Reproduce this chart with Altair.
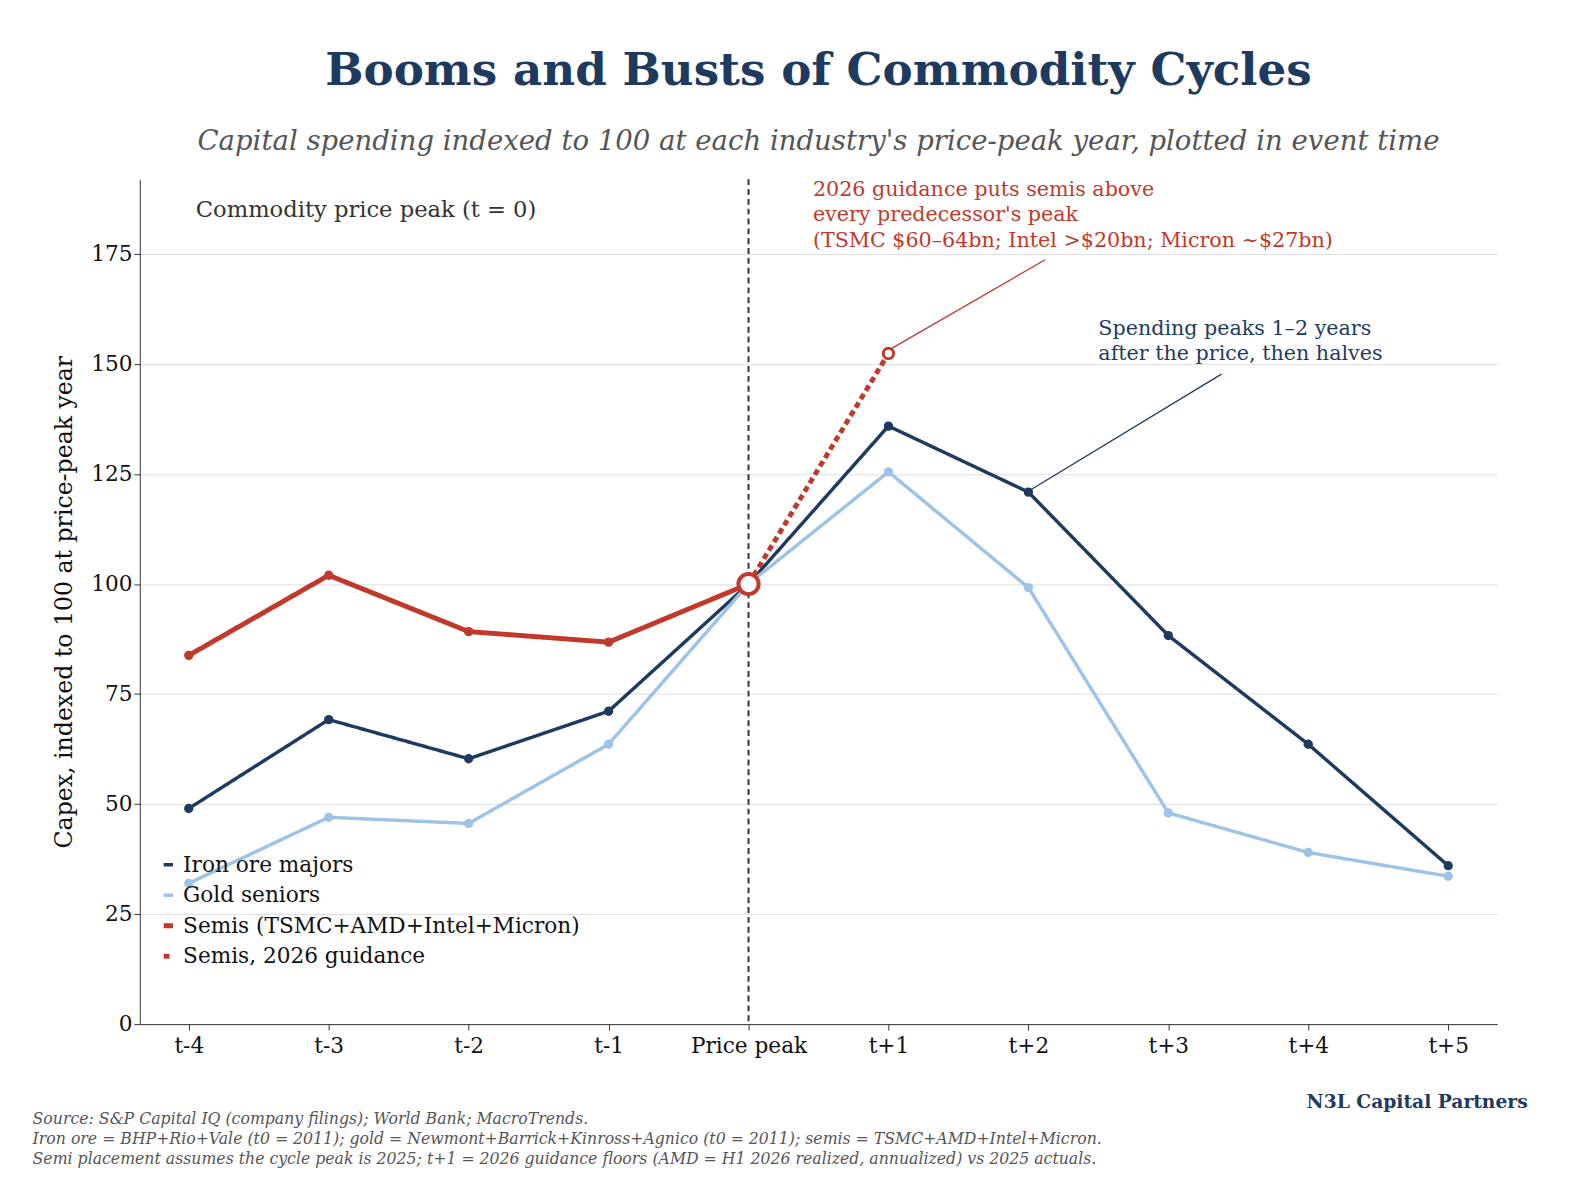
import altair as alt
import pandas as pd

labels = ["t-4", "t-3", "t-2", "t-1", "Price peak", "t+1", "t+2", "t+3", "t+4", "t+5"]
iron = [49, 69.2, 60.3, 71.1, 100, 135.9, 120.9, 88.3, 63.6, 36]
gold = [32, 47, 45.6, 63.6, 100, 125.5, 99.2, 48, 39, 33.6]
semis = [83.8, 102, 89.2, 86.8, 100]
guidance_x = [4, 5]
guidance = [100, 152.4]

names = ["Iron ore majors", "Gold seniors", "Semis (TSMC+AMD+Intel+Micron)", "Semis, 2026 guidance"]
colors = ["#1f3a5f", "#9dc3e6", "#c0392b", "#c0392b"]
widths = [3.5, 3.5, 5, 5]
dashes = [[1, 0], [1, 0], [1, 0], [6, 4]]

rows = []
for i, v in enumerate(iron):
    rows.append({"x": i, "y": v, "s": names[0]})
for i, v in enumerate(gold):
    rows.append({"x": i, "y": v, "s": names[1]})
for i, v in enumerate(semis):
    rows.append({"x": i, "y": v, "s": names[2]})
for i, v in zip(guidance_x, guidance):
    rows.append({"x": i, "y": v, "s": names[3]})
df = pd.DataFrame(rows)

FONT = "DejaVu Serif"
xs = alt.Scale(domain=[-0.35, 9.35], nice=False, zero=False)
ys = alt.Scale(domain=[0, 192], nice=False)
label_expr = "[" + ",".join(f"'{l}'" for l in labels) + "][datum.value]"

leg = alt.Legend(title=None, orient="none", legendX=18, legendY=686,
                 labelFont=FONT, labelFontSize=22, labelColor="#111",
                 symbolType="stroke", symbolSize=4200, rowPadding=9, labelLimit=600)

base = alt.Chart(df)
lines = base.mark_line().encode(
    x=alt.X("x:Q", scale=xs, title=None,
            axis=alt.Axis(values=list(range(10)), labelExpr=label_expr, grid=False,
                          labelFontSize=22, labelFont=FONT, labelColor="#111", labelPadding=6,
                          tickSize=6, domainColor="#333", tickColor="#333")),
    y=alt.Y("y:Q", scale=ys, title="Capex, indexed to 100 at price-peak year",
            axis=alt.Axis(values=[0, 25, 50, 75, 100, 125, 150, 175], gridColor="#dddddd",
                          labelFontSize=22, labelFont=FONT, labelColor="#111", titleFont=FONT,
                          titleFontSize=24, titleFontWeight="normal", titleColor="#111",
                          domainColor="#333", tickColor="#333", tickSize=6, titlePadding=14)),
    color=alt.Color("s:N", scale=alt.Scale(domain=names, range=colors), legend=leg),
    strokeWidth=alt.StrokeWidth("s:N", scale=alt.Scale(type="ordinal", domain=names, range=widths), legend=leg),
    strokeDash=alt.StrokeDash("s:N", scale=alt.Scale(domain=names, range=dashes), legend=leg),
)
pts = base.transform_filter(alt.datum.s != names[3]).transform_filter(
    (alt.datum.s != names[2]) | (alt.datum.x != 4)
).mark_circle(opacity=1).encode(
    x=alt.X("x:Q", scale=xs), y=alt.Y("y:Q", scale=ys),
    color=alt.Color("s:N", scale=alt.Scale(domain=names, range=colors), legend=None),
    size=alt.Size("s:N", scale=alt.Scale(domain=names, range=[90, 90, 150, 0]), legend=None),
)
peak = alt.Chart(pd.DataFrame({"x": [4], "y": [100]})).mark_point(
    filled=True, fill="white", stroke="#c0392b", strokeWidth=4, size=420, opacity=1
).encode(x=alt.X("x:Q", scale=xs), y=alt.Y("y:Q", scale=ys))
gpt = alt.Chart(pd.DataFrame({"x": [5], "y": [152.4]})).mark_point(
    filled=True, fill="white", stroke="#c0392b", strokeWidth=3, size=110, opacity=1
).encode(x=alt.X("x:Q", scale=xs), y=alt.Y("y:Q", scale=ys))

vline = alt.Chart(pd.DataFrame({"x": [4]})).mark_rule(
    strokeDash=[6, 4], color="#333", strokeWidth=2
).encode(x=alt.X("x:Q", scale=xs))

leaders = alt.Chart(pd.DataFrame({
    "x": [5.02, 6.02], "y": [153.5, 121.5], "x2": [6.12, 7.38], "y2": [173.7, 147.7],
    "c": ["#c0392b", "#1f3a5f"]})).mark_rule(strokeWidth=1.3).encode(
    x=alt.X("x:Q", scale=xs), y=alt.Y("y:Q", scale=ys), x2="x2:Q", y2="y2:Q",
    color=alt.Color("c:N", scale=None))

def note(x, y, lines_, color, size=21):
    return alt.Chart(pd.DataFrame({"x": [x], "y": [y], "t": [lines_]})).mark_text(
        align="left", baseline="top", font=FONT, fontSize=size, color=color, lineHeight=26
    ).encode(x=alt.X("x:Q", scale=xs), y=alt.Y("y:Q", scale=ys), text="t")

n1 = note(4.46, 192, ["2026 guidance puts semis above", "every predecessor's peak",
                      "(TSMC $60–64bn; Intel >$20bn; Micron ~$27bn)"], "#c0392b")
n2 = note(6.5, 160.5, ["Spending peaks 1–2 years", "after the price, then halves"], "#1f3a5f")
n3 = note(0.05, 187.5, ["Commodity price peak (t = 0)"], "#333", 23)

src = alt.Chart(pd.DataFrame({"t": [[
    "Source: S&P Capital IQ (company filings); World Bank; MacroTrends.",
    "Iron ore = BHP+Rio+Vale (t0 = 2011); gold = Newmont+Barrick+Kinross+Agnico (t0 = 2011); semis = TSMC+AMD+Intel+Micron.",
    "Semi placement assumes the cycle peak is 2025; t+1 = 2026 guidance floors (AMD = H1 2026 realized, annualized) vs 2025 actuals."]]})).mark_text(
    align="left", baseline="top", font=FONT, fontSize=16, fontStyle="italic", color="#555", lineHeight=20
).encode(x=alt.value(-109), y=alt.value(89 + 859), text="t")
brand = alt.Chart(pd.DataFrame({"t": ["N3L Capital Partners"]})).mark_text(
    align="right", baseline="top", font=FONT, fontSize=19, fontWeight="bold", color="#1f3a5f"
).encode(x=alt.value(1411), y=alt.value(70 + 859), text="t")

chart = alt.layer(vline, lines, pts, peak, gpt, leaders, n1, n2, n3, src, brand).properties(
    width=1380, height=859,
    title=alt.TitleParams("Booms and Busts of Commodity Cycles",
                          subtitle="Capital spending indexed to 100 at each industry's price-peak year, plotted in event time",
                          font=FONT, fontSize=46, fontWeight="bold", color="#1f3a5f",
                          subtitleFont=FONT, subtitleFontSize=28, subtitleFontStyle="italic",
                          subtitleColor="#555", subtitlePadding=34, offset=22, anchor="middle"),
    padding={"left": 25, "top": 30, "right": 40, "bottom": 160},
).configure(background="white").configure_view(stroke=None)

chart.save("out.html", embed_options={"renderer": "svg", "actions": False})
